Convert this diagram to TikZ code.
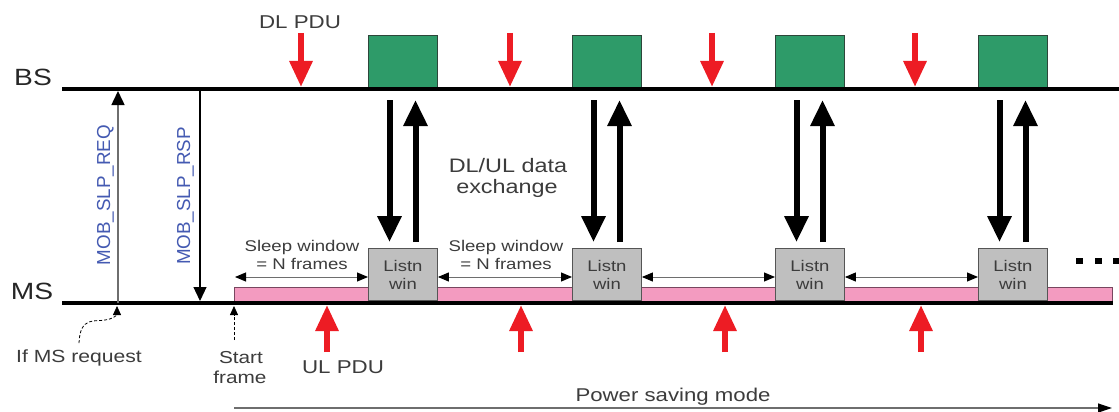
\documentclass[tikz,border=0pt]{standalone}
\usepackage{fontspec}
\setmainfont{Liberation Sans}[FakeStretch=1.2]
\newfontfamily\uprightsans{Liberation Sans}
\usetikzlibrary{arrows.meta}

\definecolor{txt}{RGB}{60,60,60}
\definecolor{axis}{RGB}{38,38,38}
\definecolor{pdured}{RGB}{237,28,36}
\definecolor{slotgreen}{RGB}{46,155,105}
\definecolor{slotedge}{RGB}{45,70,58}
\definecolor{listngray}{RGB}{191,191,191}
\definecolor{listnedge}{RGB}{85,85,85}
\definecolor{sleeppink}{RGB}{243,155,192}
\definecolor{sleepedge}{RGB}{120,70,95}
\definecolor{msgblue}{RGB}{68,90,178}
\definecolor{spanline}{RGB}{110,110,110}

\newcommand\fs[1]{\fontsize{#1}{#1}\selectfont}

\begin{document}
\begin{tikzpicture}[x=1pt,y=-1pt,
  lbl/.style={text=txt, inner sep=0pt, anchor=base},
  axislbl/.style={text=axis, inner sep=0pt, anchor=base, font=\fs{23.5}},
  msglbl/.style={text=msgblue, inner sep=0pt, anchor=base, rotate=90, font=\uprightsans\fs{18.8}},
  timeline/.style={line width=4.5pt, black},
  slot/.style={draw=slotedge, line width=0.8pt, fill=slotgreen, minimum width=69pt, minimum height=52pt, inner sep=0pt, anchor=south west},
  listn/.style={draw=listnedge, line width=0.9pt, fill=listngray, minimum width=69pt, minimum height=52pt, inner sep=0pt, anchor=south west, align=center, text=txt, font=\fontsize{15.4}{18}\selectfont},
  sleepbar/.style={draw=sleepedge, line width=0.8pt, fill=sleeppink},
  pduarrow/.style={line width=6pt, pdured, -{Triangle[width=22pt,length=26pt]}},
  bigdown/.style={line width=6pt, black, -{Triangle[width=23pt,length=26pt]}, shorten <=12pt, shorten >=6pt},
  bigup/.style={line width=6pt, black, -{Triangle[width=23pt,length=26pt]}, shorten <=6pt, shorten >=12pt},
  spanarrow/.style={draw=spanline, line width=1pt, {Triangle[width=9pt,length=11pt,color=black]}-{Triangle[width=9pt,length=11pt,color=black]}},
  reqarrow/.style={draw=spanline, line width=1.5pt, -{Triangle[width=13pt,length=14pt,color=black]}},
  rsparrow/.style={draw=black, line width=1.2pt, -{Triangle[width=13pt,length=14pt]}},
  pointer/.style={draw=black, line width=0.8pt, dash pattern=on 3pt off 2pt, -{Triangle[width=8pt,length=9pt]}},
  modearrow/.style={draw=spanline, line width=1.2pt, -{Triangle[width=9pt,length=14pt,color=black]}}
]
\fill[white] (0,0) rectangle (1119,412);
\useasboundingbox (0,0) rectangle (1119,412);

% time lines of base station and mobile station
\coordinate (bsL) at (62,89);
\coordinate (bsR) at (1119,89);
\coordinate (msL) at (62,303);
\coordinate (msR) at (1113,303);
\node[axislbl] (bs) at (33,85) {BS};
\node[axislbl] (ms) at (32,299) {MS};

% sleep interval bar
\draw[sleepbar] (234,287) rectangle (1112,301);

% transmission slots at the BS and listening windows at the MS
\foreach \i/\x in {1/368,2/572,3/775,4/978} {
  \node[slot] (g\i) at (\x,88) {};
  \node[listn] (l\i) at (\x,301) {Listn\\win};
}

\draw[timeline] (bsL) -- (bsR);
\draw[timeline] (msL) -- (msR);

% DL/UL data exchange during each listening window
\foreach \i in {1,...,4} {
  \draw[bigdown] ([xshift=21.5pt]g\i.south west) -- ([xshift=21.5pt]l\i.north west);
  \draw[bigup] ([xshift=47.5pt]l\i.north west) -- ([xshift=47.5pt]g\i.south west);
}
\node[lbl, font=\fs{19.5}] (dx1) at (508,172) {DL/UL data};
\node[lbl, font=\fs{19.5}] (dx2) at (507,193) {exchange};

% buffered PDUs
\foreach \x in {301,510,712,915}
  \draw[pduarrow] (\x,33) -- (\x,87);
\foreach \x in {327,521,725,921}
  \draw[pduarrow] (\x,352) -- (\x,305);
\node[lbl, font=\fs{18.6}] (dlpdu) at (300,29) {DL PDU};
\node[lbl, font=\fs{18.6}] (ulpdu) at (343,373) {UL PDU};

% sleep windows
\coordinate (sf) at (235,277);
\draw[spanarrow] (sf) -- (sf -| l1.west);
\draw[spanarrow] (l1.east |- sf) -- (l2.west |- sf);
\draw[spanarrow] (l2.east |- sf) -- (l3.west |- sf);
\draw[spanarrow] (l3.east |- sf) -- (l4.west |- sf);
\node[lbl, font=\fs{15.5}] (sw1a) at (302,251) {Sleep window};
\node[lbl, font=\fs{15.5}] (sw1b) at (302,269) {= N frames};
\node[lbl, font=\fs{15.5}] (sw2a) at (506,251) {Sleep window};
\node[lbl, font=\fs{15.5}] (sw2b) at (506,269) {= N frames};

% continuation
\fill (1076,258) rectangle (1083,264);
\fill (1095,258) rectangle (1102,264);
\fill (1113,258) rectangle (1119,264);

% sleep request / response messages
\coordinate (reqS) at (118,303);
\coordinate (reqE) at (118,91);
\coordinate (rspS) at (200,91);
\coordinate (rspE) at (200,301);
\draw[reqarrow] (reqS) -- (reqE);
\draw[rsparrow] (rspS) -- (rspE);
\node[msglbl] (req) at (110,195) {MOB\_SLP\_REQ};
\node[msglbl] (rsp) at (190,196) {MOB\_SLP\_RSP};

% annotations below the MS line
\node[lbl, font=\fs{17.6}] (ifms) at (79,362) {If MS request};
\coordinate (reqfoot) at (117,306);
\draw[pointer] ([yshift=6pt]ifms.north) .. controls (80,316) and (95,322) .. (105,320)
  .. controls (113,319) and (117,315) .. (reqfoot);

\node[lbl, font=\fs{17.3}] (start1) at (241,363) {Start};
\node[lbl, font=\fs{17.3}] (start2) at (240,383) {frame};
\coordinate (sfbase) at (234,340);
\coordinate (sftop) at (234,306);
\draw[pointer] (sfbase) -- (sftop);

% power saving mode span
\coordinate (psS) at (234,408);
\coordinate (psE) at (1112,408);
\draw[modearrow] (psS) -- (psE);
\node[lbl, font=\fs{18.5}] (psm) at (673,401) {Power saving mode};
\end{tikzpicture}
\end{document}
